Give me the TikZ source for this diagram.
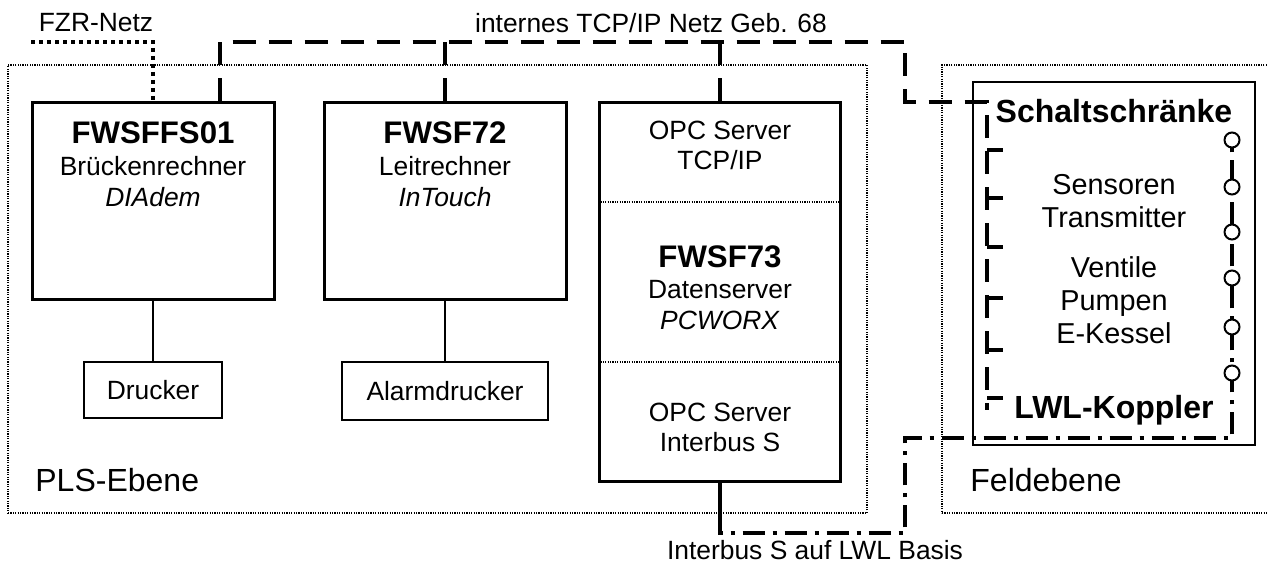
\documentclass[tikz,border=0pt]{standalone}
\usepackage{fontspec}
\setmainfont{Liberation Sans}
\usetikzlibrary{positioning, calc}

\begin{document}
\begin{tikzpicture}[x=0.5pt, y=-0.5pt]
    \tikzset{
        ebene/.style={draw, line width=0.6pt, dash pattern=on 0.6pt off 0.6pt, inner sep=0pt},
        rechner/.style={draw, line width=1.5pt, minimum width=121pt, minimum height=98.5pt, inner sep=0pt},
        drucker/.style={draw, line width=1pt, inner sep=0pt, font=\fontsize{13.2}{15.2}\selectfont},
        beschr/.style={inner sep=0pt, align=center, font=\fontsize{13.2}{15.2}\selectfont},
        feldtext/.style={inner sep=0pt, align=center, font=\fontsize{14.4}{16.5}\selectfont},
        feldtitel/.style={inner sep=0pt, font=\fontsize{16}{19}\selectfont\bfseries},
        ebenename/.style={inner sep=0pt, anchor=west, font=\fontsize{16}{19}\selectfont},
        tcpnetz/.style={line width=2pt, dash pattern=on 11.5pt off 6.5pt},
        fzrnetz/.style={line width=2pt, dash pattern=on 2pt off 2pt},
        lwlnetz/.style={line width=2pt, dash pattern=on 11pt off 4pt on 2pt off 4pt},
        kontakt/.style={circle, draw, line width=1pt, fill=white, minimum size=7.5pt, inner sep=0pt}
    }
    \newcommand{\titelfont}{\fontsize{15.6}{17}\selectfont\bfseries}

    \useasboundingbox (0,0) rectangle (1267,565);
    \clip (0,0) rectangle (1267,565);

    % Ebenen
    \node[ebene, minimum width=429.5pt, minimum height=224pt] (pls) at (437.5,289) {};
    \node[ebene, minimum width=169pt, minimum height=224pt] (feld) at (1111,289) {};
    \node[ebenename] (plsname) at (35,480) {PLS-Ebene};
    \node[ebenename] (feldname) at (970,480) {Feldebene};

    % Rechner
    \node[rechner] (fwsffs) at (153,201.5) {};
    \node[rechner] (fwsf72) at (445,201.5) {};
    \node[rechner, minimum width=120.5pt, minimum height=189.5pt] (fwsf73) at (720,292.5) {};
    \node[drucker, minimum width=69pt, minimum height=28pt] (drucker) at (153,390) {Drucker};
    \node[drucker, minimum width=103pt, minimum height=29pt] (alarm) at (445,391) {Alarmdrucker};

    \node[beschr, anchor=north] (fwsffstext) at (153,121.6) {{\titelfont FWSFFS01}\\[0.8pt] Brückenrechner\\ \textit{DIAdem}};
    \node[beschr, anchor=north] (fwsf72text) at (445,121.6) {{\titelfont FWSF72}\\[0.8pt] Leitrechner\\ \textit{InTouch}};
    \node[beschr, anchor=north] (opctcp) at (720,120.5) {OPC Server\\ TCP/IP};
    \node[beschr, anchor=north] (fwsf73text) at (720,245.5) {{\titelfont FWSF73}\\[0.4pt] Datenserver\\ \textit{PCWORX}};
    \node[beschr, anchor=north] (opcibs) at (720,402.5) {OPC Server\\ Interbus S};

    \coordinate (trenn1) at (0,202);
    \coordinate (trenn2) at (0,362);
    \draw[line width=0.6pt, dash pattern=on 0.6pt off 0.6pt] (fwsf73.west |- trenn1) -- (fwsf73.east |- trenn1);
    \draw[line width=0.6pt, dash pattern=on 0.6pt off 0.6pt] (fwsf73.west |- trenn2) -- (fwsf73.east |- trenn2);

    \draw[line width=0.8pt] (fwsffs) -- (drucker);
    \draw[line width=0.8pt] (fwsf72) -- (alarm);

    % Schaltschraenke
    \node[draw, line width=1pt, minimum width=141pt, minimum height=181.5pt] (schalt) at (1114,263.5) {};
    \node[feldtitel, anchor=north] (schalttitel) at (1114,98.5) {Schaltschränke};
    \node[feldtext, anchor=north] (sensoren) at (1114,173.7) {Sensoren\\ Transmitter};
    \node[feldtext, anchor=north] (aktoren) at (1114,256.7) {Ventile\\ Pumpen\\ E-Kessel};
    \node[feldtitel, anchor=north] (koppler) at (1114,394.5) {LWL-Koppler};

    % Netze
    \coordinate (fzrende) at (31,42);
    \node[beschr] (fzrname) at (96,23) {FZR-Netz};
    \draw[fzrnetz] (fzrende) -| (fwsffs.north);

    \coordinate (tcpl) at (220,42);
    \coordinate (tcpr) at (905,42);
    \coordinate (schaltbus) at (987,102);
    \coordinate (schaltbusende) at (987,410);
    \node[beschr] (tcpname) at (651,23) {internes TCP/IP Netz Geb. 68};
    \draw[tcpnetz] (fwsffs.north -| tcpl) -- (tcpl) -- (tcpr) |- (schaltbus) -- (schaltbusende);
    \draw[tcpnetz] (fwsf72.north) -- (fwsf72.north |- tcpl);
    \draw[tcpnetz] (fwsf73.north) -- (fwsf73.north |- tcpl);
    \foreach \y in {150,198,247,298,350,398}
        \draw[line width=2pt] (987,\y) -- ++(16,0);

    \coordinate (ib1) at (905,533);
    \coordinate (ib2) at (1232,438);
    \coordinate (ib3) at (1232,140);
    \node[beschr] (lwlname) at (815,550) {Interbus S auf LWL Basis};
    \draw[line width=2pt] (fwsf73.south) -- (fwsf73.south |- pls.south);
    \draw[lwlnetz] (fwsf73.south |- pls.south) |- (ib1) |- (ib2) -- (ib3);
    \foreach \y [count=\i] in {140,187,232,278,327,373}
        \node[kontakt] (k\i) at (1232,\y) {};
\end{tikzpicture}
\end{document}
